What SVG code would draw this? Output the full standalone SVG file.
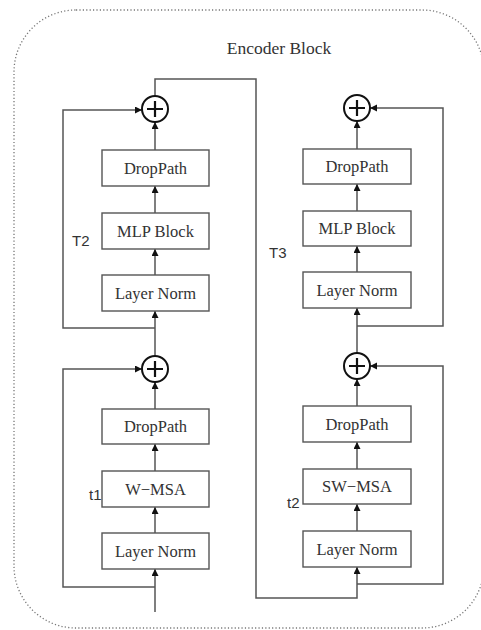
<svg xmlns="http://www.w3.org/2000/svg" width="481" height="630" viewBox="0 0 481 630">
<style>
.box{fill:#fff;stroke:#555;stroke-width:1.4}
.lbl{font-family:"Liberation Serif","Times New Roman",serif;font-size:16.5px;fill:#333;text-anchor:middle}
.tag{font-family:"Liberation Sans",Arial,sans-serif;font-size:15px;fill:#333}
.ln{fill:none;stroke:#555;stroke-width:1.5}
.sum{fill:#fff;stroke:#111;stroke-width:2}
.plus{stroke:#111;stroke-width:2.2}
</style>
<defs>
<marker id="ah" markerUnits="userSpaceOnUse" markerWidth="8" markerHeight="8" refX="7" refY="3.5" orient="auto">
<path d="M0,0 L7,3.5 L0,7 z" fill="#111"/>
</marker>
</defs>
<rect x="14" y="10" width="470" height="618" rx="62" fill="none" stroke="#777" stroke-width="1.3" stroke-dasharray="1.2 2.2"/>
<text x="279" y="54" font-family="Liberation Serif,Times New Roman,serif" font-size="17.5" fill="#333" text-anchor="middle">Encoder Block</text>

<g id="connectors">
<path class="ln" d="M155,612 V569" marker-end="url(#ah)"/>
<path class="ln" d="M155,533 V507" marker-end="url(#ah)"/>
<path class="ln" d="M155,471 V444" marker-end="url(#ah)"/>
<path class="ln" d="M155,409 V382" marker-end="url(#ah)"/>
<path class="ln" d="M155,356 V311" marker-end="url(#ah)"/>
<path class="ln" d="M155,275 V249" marker-end="url(#ah)"/>
<path class="ln" d="M155,213 V186" marker-end="url(#ah)"/>
<path class="ln" d="M155,150 V122" marker-end="url(#ah)"/>
<path class="ln" d="M155,587 H63 V369 H142" marker-end="url(#ah)"/>
<path class="ln" d="M155,328 H63 V110 H142" marker-end="url(#ah)"/>
<path class="ln" d="M155,96 V79 H256 V598 H357 V567" marker-end="url(#ah)"/>
<path class="ln" d="M357,531 V504" marker-end="url(#ah)"/>
<path class="ln" d="M357,469 V442" marker-end="url(#ah)"/>
<path class="ln" d="M357,406 V379" marker-end="url(#ah)"/>
<path class="ln" d="M357,353 V308" marker-end="url(#ah)"/>
<path class="ln" d="M357,272 V246" marker-end="url(#ah)"/>
<path class="ln" d="M357,211 V184" marker-end="url(#ah)"/>
<path class="ln" d="M357,149 V121" marker-end="url(#ah)"/>
<path class="ln" d="M357,584 H443 V366 H370" marker-end="url(#ah)"/>
<path class="ln" d="M357,326 H443 V108 H370" marker-end="url(#ah)"/>
</g>

<g id="add-l2"><circle class="sum" cx="155" cy="109" r="13"/><path class="plus" d="M147,109 H163 M155,101 V117"/></g>
<g id="droppath-l2"><rect class="box" x="102" y="150" width="107" height="36"/><text class="lbl" x="155.5" y="174">DropPath</text></g>
<g id="mlp-l"><rect class="box" x="102" y="213" width="107" height="36"/><text class="lbl" x="155.5" y="237">MLP Block</text></g>
<g id="ln-l2"><rect class="box" x="102" y="275" width="107" height="36"/><text class="lbl" x="155.5" y="299">Layer Norm</text></g>
<g id="add-l1"><circle class="sum" cx="155" cy="369" r="13"/><path class="plus" d="M147,369 H163 M155,361 V377"/></g>
<g id="droppath-l1"><rect class="box" x="102" y="409" width="107" height="35"/><text class="lbl" x="155.5" y="432">DropPath</text></g>
<g id="wmsa"><rect class="box" x="102" y="471" width="107" height="36"/><text class="lbl" x="155.5" y="495">W−MSA</text></g>
<g id="ln-l1"><rect class="box" x="102" y="533" width="107" height="36"/><text class="lbl" x="155.5" y="557">Layer Norm</text></g>

<g id="add-r2"><circle class="sum" cx="357" cy="108" r="13"/><path class="plus" d="M349,108 H365 M357,100 V116"/></g>
<g id="droppath-r2"><rect class="box" x="303" y="149" width="108" height="35"/><text class="lbl" x="357" y="172">DropPath</text></g>
<g id="mlp-r"><rect class="box" x="303" y="211" width="108" height="35"/><text class="lbl" x="357" y="234">MLP Block</text></g>
<g id="ln-r2"><rect class="box" x="303" y="272" width="108" height="36"/><text class="lbl" x="357" y="296">Layer Norm</text></g>
<g id="add-r1"><circle class="sum" cx="357" cy="366" r="13"/><path class="plus" d="M349,366 H365 M357,358 V374"/></g>
<g id="droppath-r1"><rect class="box" x="303" y="406" width="108" height="36"/><text class="lbl" x="357" y="430">DropPath</text></g>
<g id="swmsa"><rect class="box" x="303" y="469" width="108" height="35"/><text class="lbl" x="357" y="492">SW−MSA</text></g>
<g id="ln-r1"><rect class="box" x="303" y="531" width="108" height="36"/><text class="lbl" x="357" y="555">Layer Norm</text></g>

<text class="tag" x="72" y="246">T2</text>
<text class="tag" x="269" y="258">T3</text>
<text class="tag" x="89" y="500">t1</text>
<text class="tag" x="287" y="508">t2</text>
</svg>
